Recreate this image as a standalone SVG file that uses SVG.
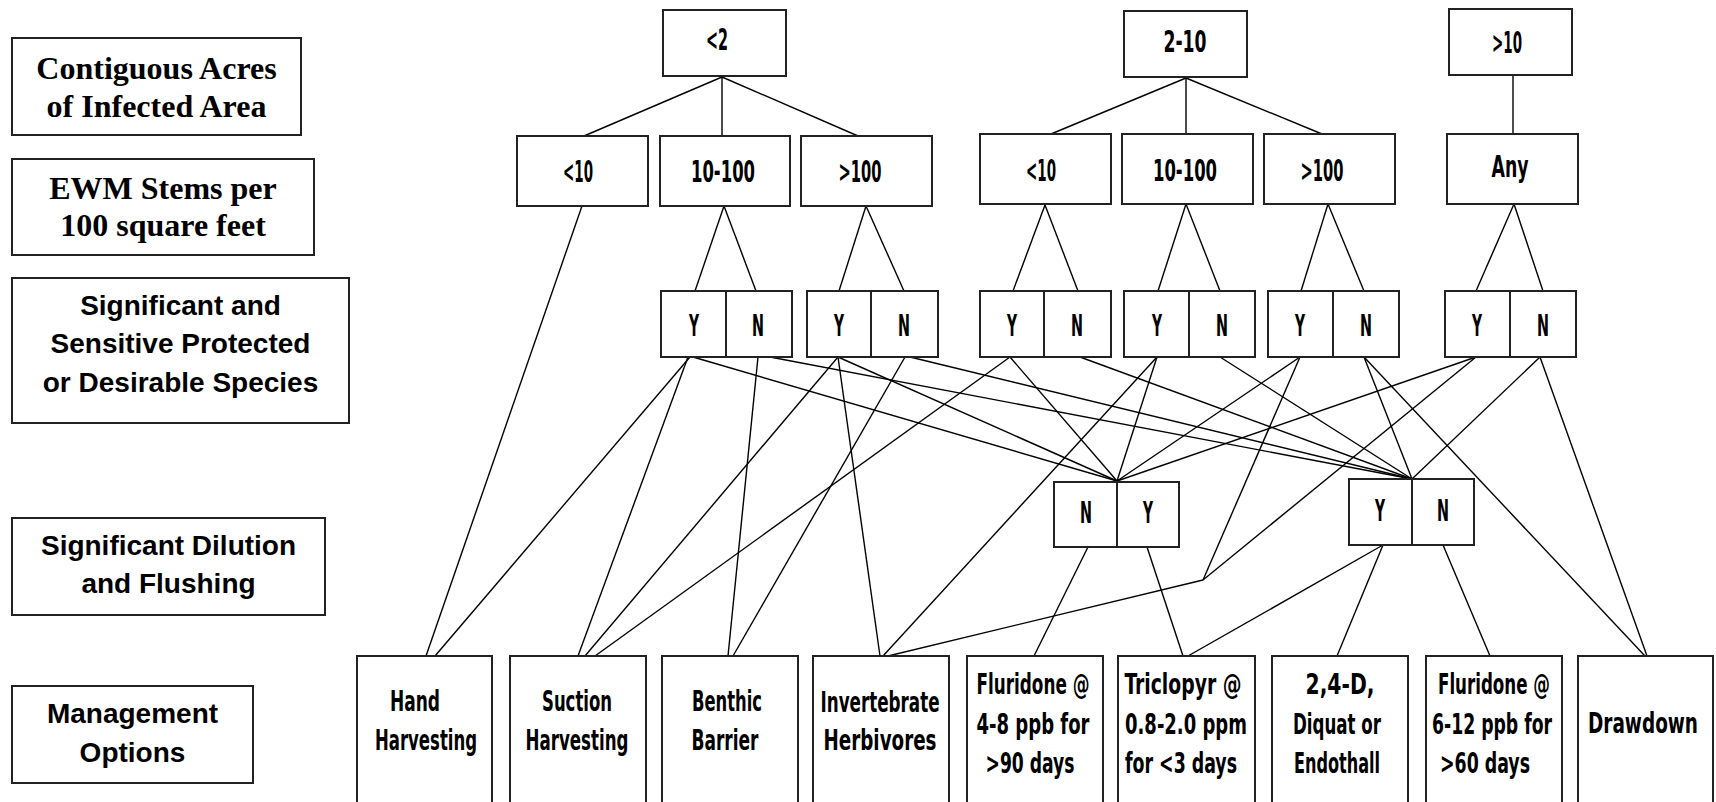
<svg xmlns="http://www.w3.org/2000/svg" width="1716" height="802" viewBox="0 0 1716 802">
<style>
  .bx{fill:#fff;stroke:#222;stroke-width:2}
  .dv{stroke:#222;stroke-width:2}
  .ln{stroke:#000;stroke-width:1.4;fill:none}
  .ser{font-family:'Liberation Serif','Times New Roman',serif;font-weight:bold;font-size:32px;fill:#000;text-anchor:middle}
  .san{font-family:'Liberation Sans',Arial,sans-serif;font-weight:bold;font-size:28px;fill:#000;text-anchor:middle}
  .t{font-family:'Liberation Sans Narrow','DejaVu Sans Condensed','Liberation Sans',sans-serif;font-weight:bold;font-size:30px;fill:#000;text-anchor:middle}
  .b{font-family:'Liberation Sans Narrow','DejaVu Sans Condensed','Liberation Sans',sans-serif;font-weight:bold;font-size:29px;fill:#000;text-anchor:middle}
</style>
<rect width="1716" height="802" fill="#fff"/>

<g id="connectors">
  <!-- acres to stems -->
  <line class="ln" x1="722" y1="77" x2="584" y2="136"/>
  <line class="ln" x1="722" y1="77" x2="722" y2="136"/>
  <line class="ln" x1="722" y1="77" x2="858" y2="136"/>
  <line class="ln" x1="1186" y1="78" x2="1051" y2="134"/>
  <line class="ln" x1="1186" y1="78" x2="1186" y2="134"/>
  <line class="ln" x1="1186" y1="78" x2="1322" y2="134"/>
  <line class="ln" x1="1513" y1="75" x2="1513" y2="134"/>
  <!-- stems to species -->
  <line class="ln" x1="724" y1="206" x2="695" y2="291"/>
  <line class="ln" x1="724" y1="206" x2="756" y2="291"/>
  <line class="ln" x1="866" y1="206" x2="839" y2="291"/>
  <line class="ln" x1="866" y1="206" x2="904" y2="291"/>
  <line class="ln" x1="1045" y1="205" x2="1013" y2="291"/>
  <line class="ln" x1="1045" y1="205" x2="1078" y2="291"/>
  <line class="ln" x1="1186" y1="204" x2="1158" y2="291"/>
  <line class="ln" x1="1186" y1="204" x2="1220" y2="291"/>
  <line class="ln" x1="1328" y1="204" x2="1301" y2="291"/>
  <line class="ln" x1="1328" y1="204" x2="1364" y2="291"/>
  <line class="ln" x1="1514" y1="204" x2="1476" y2="291"/>
  <line class="ln" x1="1514" y1="204" x2="1543" y2="291"/>
  <!-- <10 to hand harvesting -->
  <line class="ln" x1="582" y1="206" x2="426" y2="656"/>
  <!-- YN1 -->
  <line class="ln" x1="690" y1="357" x2="435" y2="656"/>
  <line class="ln" x1="688" y1="357" x2="578" y2="656"/>
  <line class="ln" x1="693" y1="357" x2="1117" y2="481"/>
  <line class="ln" x1="758" y1="357" x2="728" y2="656"/>
  <line class="ln" x1="770" y1="357" x2="1412" y2="479"/>
  <!-- YN2 -->
  <line class="ln" x1="838" y1="357" x2="585" y2="656"/>
  <line class="ln" x1="838" y1="357" x2="880" y2="656"/>
  <line class="ln" x1="838" y1="357" x2="1117" y2="481"/>
  <line class="ln" x1="905" y1="357" x2="733" y2="656"/>
  <line class="ln" x1="910" y1="357" x2="1412" y2="479"/>
  <!-- YN3 -->
  <line class="ln" x1="1010" y1="357" x2="595" y2="656"/>
  <line class="ln" x1="1010" y1="357" x2="1117" y2="481"/>
  <line class="ln" x1="1080" y1="357" x2="1412" y2="479"/>
  <!-- YN4 -->
  <line class="ln" x1="1157" y1="357" x2="1117" y2="481"/>
  <line class="ln" x1="1157" y1="357" x2="883" y2="656"/>
  <line class="ln" x1="1220" y1="357" x2="1412" y2="479"/>
  <!-- YN5 -->
  <line class="ln" x1="1300" y1="357" x2="1117" y2="481"/>
  <line class="ln" x1="1300" y1="357" x2="1203" y2="580"/>
  <line class="ln" x1="1364" y1="357" x2="1412" y2="479"/>
  <line class="ln" x1="1364" y1="357" x2="1645" y2="656"/>
  <!-- YN Any -->
  <line class="ln" x1="1476" y1="357" x2="1117" y2="481"/>
  <line class="ln" x1="1476" y1="357" x2="1203" y2="580"/>
  <line class="ln" x1="1540" y1="357" x2="1412" y2="479"/>
  <line class="ln" x1="1540" y1="357" x2="1647" y2="656"/>
  <!-- bend to invertebrates -->
  <line class="ln" x1="1203" y1="580" x2="888" y2="656"/>
  <!-- dilution to options -->
  <line class="ln" x1="1088" y1="547" x2="1034" y2="656"/>
  <line class="ln" x1="1147" y1="547" x2="1183" y2="656"/>
  <line class="ln" x1="1383" y1="545" x2="1188" y2="656"/>
  <line class="ln" x1="1383" y1="545" x2="1337" y2="656"/>
  <line class="ln" x1="1443" y1="545" x2="1490" y2="656"/>
</g>

<!-- left legend -->
<g id="lbl-acres">
  <rect class="bx" x="12" y="38" width="289" height="97"/>
  <text class="ser" x="156.5" y="79">Contiguous Acres</text>
  <text class="ser" x="156.5" y="117">of Infected Area</text>
</g>
<g id="lbl-stems">
  <rect class="bx" x="12" y="159" width="302" height="96"/>
  <text class="ser" x="163" y="199">EWM Stems per</text>
  <text class="ser" x="163" y="236">100 square feet</text>
</g>
<g id="lbl-species">
  <rect class="bx" x="12" y="278" width="337" height="145"/>
  <text class="san" x="180.5" y="315">Significant and</text>
  <text class="san" x="180.5" y="353">Sensitive Protected</text>
  <text class="san" x="180.5" y="392">or Desirable Species</text>
</g>
<g id="lbl-dilution">
  <rect class="bx" x="12" y="518" width="313" height="97"/>
  <text class="san" x="168.5" y="555">Significant Dilution</text>
  <text class="san" x="168.5" y="593">and Flushing</text>
</g>
<g id="lbl-mgmt">
  <rect class="bx" x="12" y="686" width="241" height="97"/>
  <text class="san" x="132.5" y="723">Management</text>
  <text class="san" x="132.5" y="762">Options</text>
</g>

<!-- acres -->
<g id="a-lt2"><rect class="bx" x="663" y="10" width="123" height="66"/><text class="t" x="717" y="50" textLength="22" lengthAdjust="spacingAndGlyphs">&lt;2</text></g>
<g id="a-2to10"><rect class="bx" x="1124" y="11" width="123" height="66"/><text class="t" x="1185" y="52" textLength="43" lengthAdjust="spacingAndGlyphs">2-10</text></g>
<g id="a-gt10"><rect class="bx" x="1449" y="9" width="123" height="66"/><text class="t" x="1507" y="53" textLength="30" lengthAdjust="spacingAndGlyphs">&gt;10</text></g>

<!-- stems -->
<g id="s1-lt10"><rect class="bx" x="517" y="136" width="131" height="70"/><text class="t" x="578" y="182" textLength="30" lengthAdjust="spacingAndGlyphs">&lt;10</text></g>
<g id="s1-10to100"><rect class="bx" x="660" y="136" width="130" height="70"/><text class="t" x="723" y="182" textLength="64" lengthAdjust="spacingAndGlyphs">10-100</text></g>
<g id="s1-gt100"><rect class="bx" x="801" y="136" width="131" height="70"/><text class="t" x="860" y="182" textLength="43" lengthAdjust="spacingAndGlyphs">&gt;100</text></g>
<g id="s2-lt10"><rect class="bx" x="980" y="134" width="131" height="70"/><text class="t" x="1041" y="181" textLength="30" lengthAdjust="spacingAndGlyphs">&lt;10</text></g>
<g id="s2-10to100"><rect class="bx" x="1122" y="134" width="131" height="70"/><text class="t" x="1185" y="181" textLength="64" lengthAdjust="spacingAndGlyphs">10-100</text></g>
<g id="s2-gt100"><rect class="bx" x="1264" y="134" width="131" height="70"/><text class="t" x="1322" y="181" textLength="43" lengthAdjust="spacingAndGlyphs">&gt;100</text></g>
<g id="s3-any"><rect class="bx" x="1447" y="134" width="131" height="70"/><text class="t" x="1510" y="177" textLength="37" lengthAdjust="spacingAndGlyphs">Any</text></g>

<!-- species Y/N -->
<g id="sp1"><rect class="bx" x="661" y="291" width="131" height="66"/><line class="dv" x1="726" y1="291" x2="726" y2="357"/>
  <text class="t" x="694" y="336" textLength="10" lengthAdjust="spacingAndGlyphs">Y</text><text class="t" x="758" y="336" textLength="12" lengthAdjust="spacingAndGlyphs">N</text></g>
<g id="sp2"><rect class="bx" x="807" y="291" width="131" height="66"/><line class="dv" x1="871" y1="291" x2="871" y2="357"/>
  <text class="t" x="839" y="336" textLength="10" lengthAdjust="spacingAndGlyphs">Y</text><text class="t" x="904" y="336" textLength="12" lengthAdjust="spacingAndGlyphs">N</text></g>
<g id="sp3"><rect class="bx" x="980" y="291" width="131" height="66"/><line class="dv" x1="1044" y1="291" x2="1044" y2="357"/>
  <text class="t" x="1012" y="336" textLength="10" lengthAdjust="spacingAndGlyphs">Y</text><text class="t" x="1077" y="336" textLength="12" lengthAdjust="spacingAndGlyphs">N</text></g>
<g id="sp4"><rect class="bx" x="1124" y="291" width="131" height="66"/><line class="dv" x1="1189" y1="291" x2="1189" y2="357"/>
  <text class="t" x="1157" y="336" textLength="10" lengthAdjust="spacingAndGlyphs">Y</text><text class="t" x="1222" y="336" textLength="12" lengthAdjust="spacingAndGlyphs">N</text></g>
<g id="sp5"><rect class="bx" x="1268" y="291" width="131" height="66"/><line class="dv" x1="1333" y1="291" x2="1333" y2="357"/>
  <text class="t" x="1300" y="336" textLength="10" lengthAdjust="spacingAndGlyphs">Y</text><text class="t" x="1366" y="336" textLength="12" lengthAdjust="spacingAndGlyphs">N</text></g>
<g id="sp6"><rect class="bx" x="1445" y="291" width="131" height="66"/><line class="dv" x1="1510" y1="291" x2="1510" y2="357"/>
  <text class="t" x="1477" y="336" textLength="10" lengthAdjust="spacingAndGlyphs">Y</text><text class="t" x="1543" y="336" textLength="12" lengthAdjust="spacingAndGlyphs">N</text></g>

<!-- dilution -->
<g id="dil1"><rect class="bx" x="1054" y="482" width="125" height="65"/><line class="dv" x1="1117" y1="482" x2="1117" y2="547"/>
  <text class="t" x="1086" y="523" textLength="12" lengthAdjust="spacingAndGlyphs">N</text><text class="t" x="1148" y="523" textLength="10" lengthAdjust="spacingAndGlyphs">Y</text></g>
<g id="dil2"><rect class="bx" x="1349" y="479" width="125" height="66"/><line class="dv" x1="1412" y1="479" x2="1412" y2="545"/>
  <text class="t" x="1380" y="521" textLength="10" lengthAdjust="spacingAndGlyphs">Y</text><text class="t" x="1443" y="521" textLength="12" lengthAdjust="spacingAndGlyphs">N</text></g>

<!-- management options -->
<g id="opt-hand"><rect class="bx" x="357" y="656" width="135" height="160"/>
  <text class="b" x="415" y="711" textLength="50" lengthAdjust="spacingAndGlyphs">Hand</text>
  <text class="b" x="426" y="750" textLength="102" lengthAdjust="spacingAndGlyphs">Harvesting</text></g>
<g id="opt-suction"><rect class="bx" x="510" y="656" width="136" height="160"/>
  <text class="b" x="577" y="711" textLength="70" lengthAdjust="spacingAndGlyphs">Suction</text>
  <text class="b" x="577" y="750" textLength="103" lengthAdjust="spacingAndGlyphs">Harvesting</text></g>
<g id="opt-benthic"><rect class="bx" x="662" y="656" width="136" height="160"/>
  <text class="b" x="727" y="711" textLength="70" lengthAdjust="spacingAndGlyphs">Benthic</text>
  <text class="b" x="725" y="750" textLength="67" lengthAdjust="spacingAndGlyphs">Barrier</text></g>
<g id="opt-invert"><rect class="bx" x="813" y="656" width="136" height="160"/>
  <text class="b" x="880" y="712" textLength="119" lengthAdjust="spacingAndGlyphs">Invertebrate</text>
  <text class="b" x="880" y="750" textLength="113" lengthAdjust="spacingAndGlyphs">Herbivores</text></g>
<g id="opt-flur48"><rect class="bx" x="967" y="656" width="136" height="160"/>
  <text class="b" x="1033" y="694" textLength="113" lengthAdjust="spacingAndGlyphs">Fluridone @</text>
  <text class="b" x="1033" y="734" textLength="113" lengthAdjust="spacingAndGlyphs">4-8 ppb for</text>
  <text class="b" x="1030" y="773" textLength="89" lengthAdjust="spacingAndGlyphs">&gt;90 days</text></g>
<g id="opt-triclopyr"><rect class="bx" x="1118" y="656" width="137" height="160"/>
  <text class="b" x="1183" y="694" textLength="117" lengthAdjust="spacingAndGlyphs">Triclopyr @</text>
  <text class="b" x="1186" y="734" textLength="122" lengthAdjust="spacingAndGlyphs">0.8-2.0 ppm</text>
  <text class="b" x="1181" y="773" textLength="112" lengthAdjust="spacingAndGlyphs">for &lt;3 days</text></g>
<g id="opt-24d"><rect class="bx" x="1272" y="656" width="136" height="160"/>
  <text class="b" x="1340" y="694" textLength="69" lengthAdjust="spacingAndGlyphs">2,4-D,</text>
  <text class="b" x="1337" y="734" textLength="88" lengthAdjust="spacingAndGlyphs">Diquat or</text>
  <text class="b" x="1337" y="773" textLength="86" lengthAdjust="spacingAndGlyphs">Endothall</text></g>
<g id="opt-flur612"><rect class="bx" x="1426" y="656" width="136" height="160"/>
  <text class="b" x="1494" y="694" textLength="112" lengthAdjust="spacingAndGlyphs">Fluridone @</text>
  <text class="b" x="1492" y="734" textLength="120" lengthAdjust="spacingAndGlyphs">6-12 ppb for</text>
  <text class="b" x="1485" y="773" textLength="90" lengthAdjust="spacingAndGlyphs">&gt;60 days</text></g>
<g id="opt-drawdown"><rect class="bx" x="1578" y="656" width="135" height="160"/>
  <text class="b" x="1643" y="733" textLength="110" lengthAdjust="spacingAndGlyphs">Drawdown</text></g>
</svg>
